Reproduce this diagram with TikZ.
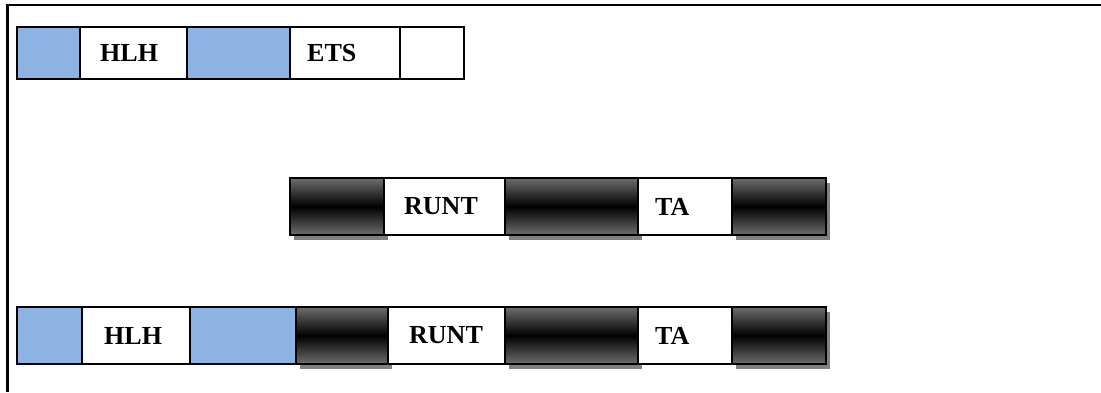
\documentclass[tikz,border=0pt]{standalone}
\usepackage{fontspec}
\setmainfont{Liberation Serif}
\usetikzlibrary{shadows}
\definecolor{cblue}{HTML}{8DB3E2}
\definecolor{cgrey}{HTML}{6E6E6E}
\definecolor{cshadow}{HTML}{808080}
\tikzset{
  cell/.style={draw, line width=2pt, inner sep=0pt, outer sep=0pt, anchor=north west},
  bluecell/.style={cell, fill=cblue},
  whitecell/.style={cell, fill=white},
  darkcell/.style={cell, top color=cgrey, bottom color=cgrey, middle color=black,
     drop shadow={shadow xshift=4pt, shadow yshift=-5pt, fill=cshadow, opacity=1}},
  txt/.style={font=\fontsize{26}{30}\selectfont\bfseries, inner sep=0pt, anchor=west},
  rowa/.style={minimum height=52pt},
  rowb/.style={minimum height=57pt},
}
\begin{document}
\begin{tikzpicture}[x=1pt,y=-1pt]
\useasboundingbox (0,0) rectangle (1101,392);
\fill[white] (0,0) rectangle (1101,392);
% frame
\draw[line width=2.5pt] (7.5,392) -- (7.5,5) -- (1101,5);
% row 1
\node[bluecell, rowa, minimum width=63pt] (a1) at (17,27) {};
\node[whitecell, rowa, minimum width=107pt] (a2) at (80,27) {};
\node[bluecell, rowa, minimum width=103pt] (a3) at (187,27) {};
\node[whitecell, rowa, minimum width=110pt] (a4) at (290,27) {};
\node[whitecell, rowa, minimum width=64pt] (a5) at (400,27) {};
\node[txt] (ta2) at ([xshift=20pt]a2.west) {HLH};
\node[txt] (ta4) at ([xshift=17pt]a4.west) {ETS};
% row 2
\node[darkcell, rowb, minimum width=94pt] (b1) at (290,178) {};
\node[whitecell, rowb, minimum width=121pt] (b2) at (384,178) {};
\node[darkcell, rowb, minimum width=133pt] (b3) at (505,178) {};
\node[whitecell, rowb, minimum width=94pt] (b4) at (638,178) {};
\node[darkcell, rowb, minimum width=94pt] (b5) at (732,178) {};
\node[txt] (tb2) at ([xshift=20pt]b2.west) {RUNT};
\node[txt] (tb4) at ([xshift=17pt]b4.west) {TA};
% row 3
\node[bluecell, rowb, minimum width=65pt] (c1) at (17,307) {};
\node[whitecell, rowb, minimum width=108pt] (c2) at (82,307) {};
\node[bluecell, rowb, minimum width=106pt] (c3) at (190,307) {};
\node[darkcell, rowb, minimum width=92pt] (c4) at (296,307) {};
\node[whitecell, rowb, minimum width=117pt] (c5) at (388,307) {};
\node[darkcell, rowb, minimum width=133pt] (c6) at (505,307) {};
\node[whitecell, rowb, minimum width=94pt] (c7) at (638,307) {};
\node[darkcell, rowb, minimum width=94pt] (c8) at (732,307) {};
\node[txt] (tc2) at ([xshift=22pt]c2.west) {HLH};
\node[txt] (tc5) at ([xshift=21pt]c5.west) {RUNT};
\node[txt] (tc7) at ([xshift=17pt]c7.west) {TA};
\end{tikzpicture}
\end{document}
